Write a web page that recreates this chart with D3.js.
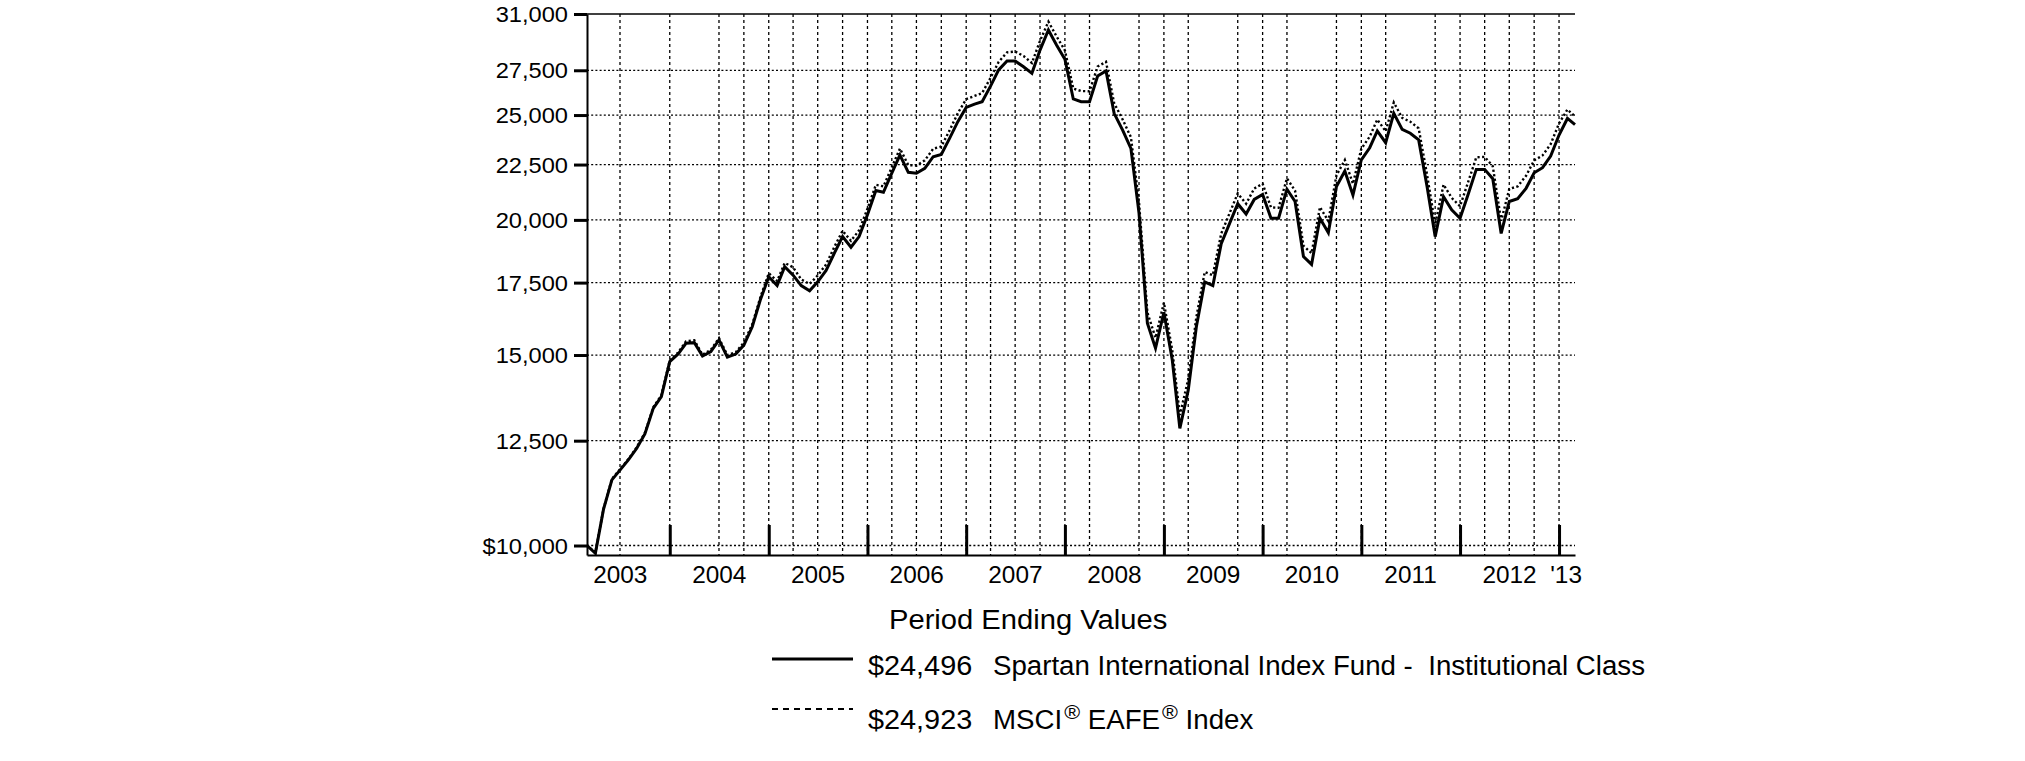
<!DOCTYPE html>
<html>
<head>
<meta charset="utf-8">
<script src="https://cdn.jsdelivr.net/npm/d3@7"></script>
<style>
  html, body { margin: 0; padding: 0; background: #fff; }
  svg { display: block; }
  text { font-family: "Liberation Sans", Arial, Helvetica, sans-serif; fill: #000; }
</style>
</head>
<body>
<svg id="chart" width="2025" height="761"></svg>
<script>
// ---------------- DATA ----------------
const startMonth = "2003-02";           // first month-end of the series
const fundValues = [
  10000, 9835, 10800, 11500, 11740, 12000, 12300, 12680, 13390, 13730,
  14790, 15030, 15380, 15400, 14970, 15110, 15490, 14930, 15030, 15320,
  15930, 16870, 17720, 17390, 18100, 17780, 17390, 17200, 17530, 17960,
  18640, 19300, 18870, 19300, 20220, 21290, 21210, 22090, 22960, 22130,
  22090, 22320, 22880, 22990, 23800, 24650, 25410, 25590, 25720, 26590,
  27520, 28050, 28050, 27710, 27320, 28710, 29960, 29020, 28150, 25870,
  25720, 25720, 27170, 27460, 25090, 24220, 23290, 20290, 16050, 15220,
  16430, 14840, 12830, 13920, 15930, 17530, 17390, 19010, 19850, 20700,
  20250, 20890, 21110, 20070, 20070, 21350, 20800, 18500, 18190, 20070,
  19460, 21470, 22190, 21080, 22730, 23320, 24170, 23570, 25090, 24250,
  24050, 23710, 21470, 19300, 21010, 20430, 20070, 21160, 22270, 22270,
  21830, 19430, 20800, 20920, 21390, 22110, 22350, 22910, 23960, 24820,
  24496
];
const indexValues = [
  10000, 9850, 10810, 11520, 11760, 12020, 12330, 12710, 13420, 13770,
  14830, 15080, 15440, 15480, 15010, 15170, 15550, 15000, 15090, 15400,
  16010, 16960, 17850, 17560, 18250, 18080, 17620, 17450, 17770, 18190,
  18890, 19540, 19130, 19560, 20480, 21550, 21480, 22370, 23280, 22470,
  22450, 22700, 23270, 23380, 24210, 25100, 25860, 26040, 26200, 27060,
  27990, 28570, 28620, 28350, 27930, 29280, 30500, 29560, 28690, 26450,
  26310, 26300, 27720, 28000, 25640, 24780, 23850, 20770, 16420, 15560,
  16770, 15150, 13200, 14250, 16260, 17900, 17780, 19430, 20290, 21160,
  20700, 21380, 21600, 20540, 20520, 21850, 21280, 18930, 18630, 20550,
  19950, 21990, 22720, 21600, 23270, 23880, 24760, 24150, 25680, 24850,
  24650, 24300, 22020, 19800, 21560, 20960, 20590, 21720, 22850, 22870,
  22420, 19960, 21360, 21480, 21970, 22700, 22940, 23500, 24560, 25300,
  24923
];
const yTickValues = [10000, 12500, 15000, 17500, 20000, 22500, 25000, 27500, 31000];
const yTickLabels = ["$10,000", "12,500", "15,000", "17,500", "20,000", "22,500", "25,000", "27,500", "31,000"];
const yearTickMonths = ["2003-12","2004-12","2005-12","2006-12","2007-12","2008-12","2009-12","2010-12","2011-12","2012-12"];
const yearLabels = ["2003","2004","2005","2006","2007","2008","2009","2010","2011","2012","'13"];
const yearLabelDates = ["2003-07-01","2004-07-01","2005-07-01","2006-07-01","2007-07-01","2008-07-01","2009-07-01","2010-07-01","2011-07-01","2012-07-01","2013-01-26"];
const gridMonths = ["2003-06","2003-12","2004-06","2004-09","2004-12","2005-03","2005-06","2005-09","2005-12",
  "2006-03","2006-06","2006-09","2006-12","2007-03","2007-06","2007-09","2007-12","2008-03","2008-09","2008-12",
  "2009-03","2009-09","2009-12","2010-03","2010-09","2010-12","2011-03","2011-09","2011-12","2012-03","2012-06",
  "2012-09","2012-12"];
const legendTitle = "Period Ending Values";
const seriesNames = ["Spartan International Index Fund -  Institutional Class", "MSCI® EAFE® Index"];
const endingLabels = ["$24,496", "$24,923"];
const domainStart = "2003-02", domainEnd = "2013-02";
const yDomain = [9800, 31000];

// ---------------- HELPERS ----------------
const monthEnd = s => { const [yy, mm] = s.split("-").map(Number); return new Date(yy, mm, 0); };
const parseDay = d3.timeParse("%Y-%m-%d");
const start = monthEnd(startMonth);
const dates = fundValues.map((_, i) => d3.timeDay.offset(d3.timeMonth.offset(new Date(start.getFullYear(), start.getMonth() + 1, 1), i), -1));

// ---------------- LAYOUT ----------------
const svg = d3.select("#chart");
const L = 587, R = 1575, T = 14, B = 555;

const x = d3.scaleTime().domain([monthEnd(domainStart), monthEnd(domainEnd)]).range([L, R]);
const y = d3.scaleLog().domain(yDomain).range([B, T]);

// grid horizontal
svg.append("g").selectAll("line")
  .data(yTickValues.filter(v => v !== 31000))
  .join("line")
  .attr("x1", L).attr("x2", R)
  .attr("y1", d => y(d)).attr("y2", d => y(d))
  .attr("stroke", "#000").attr("stroke-width", 1.3)
  .attr("stroke-dasharray", "2,2.2");

// grid vertical
svg.append("g").selectAll("line")
  .data(gridMonths.map(monthEnd))
  .join("line")
  .attr("x1", d => x(d)).attr("x2", d => x(d))
  .attr("y1", T).attr("y2", B)
  .attr("stroke", "#000").attr("stroke-width", 1.3)
  .attr("stroke-dasharray", "3,3");

// top border
svg.append("line").attr("x1", L).attr("x2", R).attr("y1", T).attr("y2", T)
  .attr("stroke", "#000").attr("stroke-width", 1.6);

// y axis
const yAxis = svg.append("g").attr("transform", `translate(${L},0)`)
  .call(d3.axisLeft(y).tickValues(yTickValues).tickFormat((d, i) => yTickLabels[i]).tickSizeInner(13).tickSizeOuter(0).tickPadding(6));
yAxis.select(".domain").attr("stroke", "#000").attr("stroke-width", 2);
yAxis.selectAll(".tick line").attr("stroke", "#000").attr("stroke-width", 3);
yAxis.selectAll(".tick text")
  .attr("x", 0).attr("dy", null).attr("y", 7.5)
  .attr("font-size", 21.5)
  .attr("text-anchor", "end")
  .attr("transform", "translate(-19,0) scale(1.1,1)");

// x axis
const xAxis = svg.append("g").attr("transform", `translate(0,${B})`)
  .call(d3.axisBottom(x).tickValues(yearTickMonths.map(monthEnd)).tickFormat("").tickSizeInner(-30).tickSizeOuter(0));
xAxis.select(".domain").attr("stroke", "#000").attr("stroke-width", 2);
xAxis.selectAll(".tick line").attr("stroke", "#000").attr("stroke-width", 3);

svg.append("g").selectAll("text")
  .data(yearLabels)
  .join("text")
  .attr("transform", (d, i) => `translate(${x(parseDay(yearLabelDates[i]))},583) scale(1.06,1)`)
  .attr("text-anchor", "middle")
  .attr("font-size", 23)
  .text(d => d);

// series lines
const line = d3.line().x((d, i) => x(dates[i])).y(d => y(d));
svg.append("path").datum(indexValues)
  .attr("d", line).attr("fill", "none")
  .attr("stroke", "#000").attr("stroke-width", 2.4)
  .attr("stroke-dasharray", "2.2,2.4");
svg.append("path").datum(fundValues)
  .attr("d", line).attr("fill", "none")
  .attr("stroke", "#000").attr("stroke-width", 3)
  .attr("stroke-linejoin", "miter");

// legend
svg.append("text").attr("transform", "translate(889,629) scale(1.08,1)")
  .attr("font-size", 27).text(legendTitle);

const rows = [
  { lineY: 659, base: 675, dash: null, sw: 3.2 },
  { lineY: 709, base: 729, dash: "6,5", sw: 2 }
];
rows.forEach((r, i) => {
  svg.append("line").attr("x1", 772).attr("x2", 853).attr("y1", r.lineY).attr("y2", r.lineY)
    .attr("stroke", "#000").attr("stroke-width", r.sw)
    .attr("stroke-dasharray", r.dash);
  svg.append("text").attr("transform", `translate(868,${r.base}) scale(1.03,1)`)
    .attr("font-size", 28).text(endingLabels[i]);
});
svg.append("text").attr("transform", "translate(993,675) scale(1.025,1)")
  .attr("font-size", 27).attr("xml:space", "preserve").style("white-space", "pre")
  .text(seriesNames[0]);

// MSCI® EAFE® Index with superscript marks
const t2 = svg.append("text").attr("transform", "translate(993,729) scale(1.025,1)").attr("font-size", 27)
  .attr("xml:space", "preserve").style("white-space", "pre");
t2.append("tspan").text("MSCI");
t2.append("tspan").attr("font-size", 21).attr("dy", -10).attr("dx", 2).text("®");
t2.append("tspan").attr("dy", 10).text(" EAFE");
t2.append("tspan").attr("font-size", 21).attr("dy", -10).attr("dx", 2).text("®");
t2.append("tspan").attr("dy", 10).text(" Index");
</script>
</body>
</html>
